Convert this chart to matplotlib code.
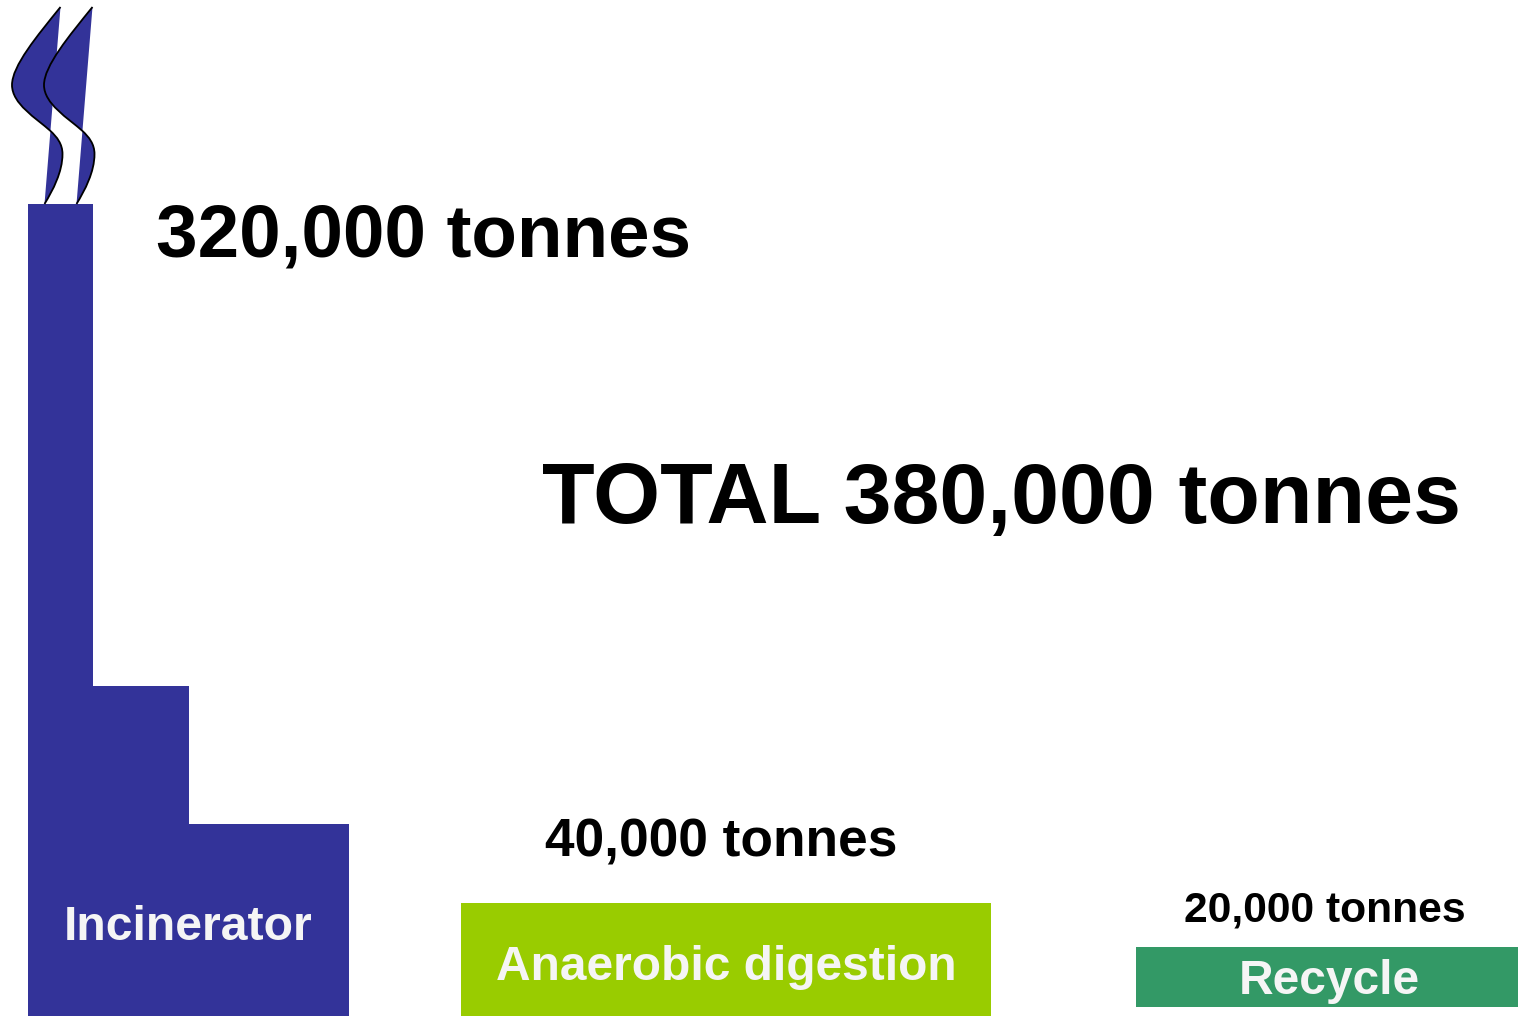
import matplotlib
matplotlib.use('Agg')
import matplotlib.pyplot as plt
from matplotlib.path import Path
from matplotlib.patches import PathPatch

plt.rcParams['font.family'] = ['Liberation Sans', 'DejaVu Sans']

W = 1518
H = 1016

# the blocks, left / top / right / bottom in picture pixels
blocks_left = [28, 28, 28, 461, 1136]
blocks_top = [204, 686, 824, 903, 947]
blocks_right = [93, 189, 349, 991, 1518]
blocks_bottom = [1016, 1016, 1016, 1016, 1007]
blocks_color = ['#333399', '#333399', '#333399', '#99CC00', '#339966']

smoke_shift = [0, 32]
smoke_x = [60.5, 37, 12, 12, 12, 36, 50.5, 57, 62.5, 62.5, 62.5, 53, 44.5]
smoke_y = [7, 36, 66, 85, 104, 118, 131, 137, 144, 154, 172, 190, 204]
smoke_codes = [Path.MOVETO] + [Path.CURVE4] * 12

labels = ['320,000 tonnes', 'TOTAL 380,000 tonnes', '40,000 tonnes', '20,000 tonnes',
          'Incinerator', 'Anaerobic digestion', 'Recycle']
labels_x = [423, 1001, 721, 1325, 188, 726, 1329]
labels_y = [229, 492, 837, 906, 922, 963, 977]
labels_size = [53.7, 62, 38.3, 30.7, 34.7, 34.5, 34.5]
labels_color = ['black', 'black', 'black', 'black', '#F5F5F5', '#F5F5F5', '#F5F5F5']

fig = plt.figure(figsize=(W / 100, H / 100), dpi=100)
ax = fig.add_axes([0, 0, 1, 1])
ax.set_xlim(0, W)
ax.set_ylim(H, 0)
ax.axis('off')

for l, t, r, b, c in zip(blocks_left, blocks_top, blocks_right, blocks_bottom, blocks_color):
    ax.bar(l, b - t, width=r - l, bottom=t, align='edge', color=c, linewidth=0)

for s in smoke_shift:
    xs = [x + s for x in smoke_x]
    # filled shape closed by the straight edge back to the top
    fill_verts = list(zip(xs, smoke_y)) + [(xs[0], smoke_y[0])]
    fill_codes = smoke_codes + [Path.LINETO]
    ax.add_patch(PathPatch(Path(fill_verts, fill_codes), facecolor='#333399', edgecolor='none', zorder=3))
    ax.add_patch(PathPatch(Path(list(zip(xs, smoke_y)), smoke_codes), facecolor='none',
                           edgecolor='black', linewidth=1.3, zorder=4))

for txt, x, y, sz, c in zip(labels, labels_x, labels_y, labels_size, labels_color):
    ax.text(x, y, txt, fontsize=sz, fontweight='bold', color=c, ha='center', va='center_baseline', zorder=5)

fig.savefig('out.png', dpi=100)
